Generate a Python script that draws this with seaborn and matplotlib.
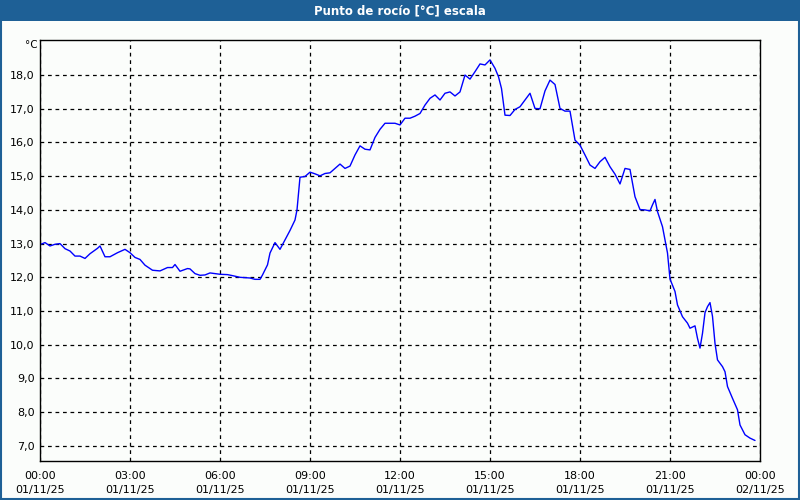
import pandas as pd
import numpy as np
import matplotlib
matplotlib.use("Agg")
import matplotlib.pyplot as plt
import matplotlib.dates as mdates
from matplotlib.patches import Rectangle
from matplotlib.ticker import FuncFormatter, FixedLocator
import seaborn as sns

# ========== DATA ==========
day = "2025-11-01"
times = [
    "00:00", "00:10", "00:20", "00:30", "00:40", "00:50", "01:00", "01:10", "01:20", "01:30",
    "01:40", "01:55", "02:00", "02:10", "02:20", "02:35", "02:50", "03:00", "03:10", "03:20",
    "03:30", "03:45", "04:00", "04:15", "04:25", "04:30", "04:40", "04:55", "05:00", "05:10",
    "05:20", "05:30", "05:40", "05:50", "06:00", "06:15", "06:25", "06:40", "07:00", "07:10",
    "07:20", "07:25", "07:35", "07:40", "07:50", "08:00", "08:10", "08:20", "08:30", "08:34",
    "08:40", "08:50", "09:00", "09:10", "09:20", "09:30", "09:40", "09:50", "10:00", "10:10",
    "10:20", "10:30", "10:40", "10:50", "11:00", "11:10", "11:20", "11:30", "11:40", "11:50",
    "12:00", "12:10", "12:20", "12:30", "12:40", "12:50", "13:00", "13:10", "13:20", "13:30",
    "13:40", "13:50", "14:00", "14:10", "14:20", "14:30", "14:40", "14:50", "15:00", "15:10",
    "15:17", "15:23", "15:30", "15:40", "15:50", "16:00", "16:10", "16:20", "16:30", "16:40",
    "16:50", "17:00", "17:10", "17:20", "17:30", "17:40", "17:50", "18:00", "18:10", "18:20",
    "18:30", "18:40", "18:50", "19:00", "19:10", "19:20", "19:30", "19:40", "19:50", "20:00",
    "20:10", "20:20", "20:25", "20:30", "20:35", "20:45", "20:50", "20:55", "21:00", "21:10",
    "21:15", "21:25", "21:35", "21:40", "21:50", "21:55", "22:00", "22:05", "22:10", "22:15",
    "22:20", "22:25", "22:30", "22:35", "22:45", "22:50", "22:55", "23:05", "23:15", "23:20",
    "23:30", "23:40", "23:50",
]
dew_point = [
    12.97, 13.03, 12.93, 12.98, 13.00, 12.85, 12.78, 12.63, 12.63, 12.56,
    12.70, 12.86, 12.93, 12.61, 12.61, 12.73, 12.83, 12.73, 12.59, 12.53,
    12.36, 12.21, 12.19, 12.29, 12.29, 12.38, 12.18, 12.26, 12.25, 12.11,
    12.06, 12.07, 12.13, 12.11, 12.09, 12.08, 12.05, 12.00, 11.98, 11.94,
    11.94, 12.07, 12.37, 12.72, 13.03, 12.83, 13.11, 13.39, 13.70, 14.00,
    14.97, 14.99, 15.12, 15.07, 15.01, 15.08, 15.10, 15.23, 15.36, 15.23,
    15.30, 15.63, 15.90, 15.80, 15.78, 16.15, 16.39, 16.57, 16.57, 16.57,
    16.52, 16.72, 16.72, 16.78, 16.86, 17.11, 17.31, 17.41, 17.26, 17.46,
    17.50, 17.38, 17.50, 18.00, 17.88, 18.10, 18.33, 18.30, 18.45, 18.20,
    17.95, 17.60, 16.81, 16.80, 16.98, 17.06, 17.26, 17.46, 17.01, 17.00,
    17.53, 17.85, 17.72, 17.01, 16.93, 16.93, 16.07, 15.92, 15.63, 15.33,
    15.23, 15.43, 15.56, 15.28, 15.06, 14.77, 15.23, 15.20, 14.39, 14.01,
    14.00, 13.97, 14.15, 14.31, 13.95, 13.50, 13.11, 12.72, 11.95, 11.58,
    11.18, 10.83, 10.64, 10.49, 10.56, 10.19, 9.90, 10.34, 10.95, 11.13,
    11.25, 10.84, 10.04, 9.55, 9.35, 9.20, 8.76, 8.41, 8.07, 7.62,
    7.33, 7.23, 7.16,
]
y_ticks = [7, 8, 9, 10, 11, 12, 13, 14, 15, 16, 17, 18]
title = "Punto de rocío [°C] escala"
unit_label = "°C"

df = pd.DataFrame({"time": pd.to_datetime([f"{day} {t}" for t in times]),
                   "dew": dew_point})

# ========== PLOT ==========
sns.set_style("white")
plt.rcParams["font.family"] = ["DejaVu Sans"]

bg = "#fbfdfb"
blue_frame = "#1e6096"

fig = plt.figure(figsize=(8, 5), dpi=100, facecolor=bg)
ax = fig.add_axes([0.05, 0.0786, 0.90, 0.8414])
ax.set_facecolor(bg)

sns.lineplot(data=df, x="time", y="dew", ax=ax, color="#0000ff", linewidth=1.0)

start = pd.Timestamp(day)
end = start + pd.Timedelta(hours=24)
ax.set_xlim(start, end)
ax.set_ylim(6.56, 19.04)

# x axis: major every 3h with dashed grid, minor every hour
ax.xaxis.set_major_locator(mdates.HourLocator(interval=3))
ax.xaxis.set_minor_locator(mdates.HourLocator(interval=1))
ax.xaxis.set_major_formatter(mdates.DateFormatter("%H:%M\n%d/%m/%y"))
ax.tick_params(axis="x", which="both", direction="out", length=2.2, width=1,
               color="black", labelcolor="black", labelsize=8, pad=5)
for lab in ax.get_xticklabels():
    lab.set_linespacing(1.6)

# y axis
ax.yaxis.set_major_locator(FixedLocator(y_ticks))
ax.yaxis.set_major_formatter(FuncFormatter(lambda v, p: f"{v:.1f}".replace(".", ",")))
ax.tick_params(axis="y", length=0, labelsize=8, labelcolor="black", pad=4)

ax.grid(True, which="major", color="black", linestyle=(0, (3, 3)), linewidth=0.9)
ax.set_xlabel("")
ax.set_ylabel("")

for sp in ax.spines.values():
    sp.set_color("black")
    sp.set_linewidth(1.0)
    sp.set_visible(True)

fig.text(0.047, 0.91, unit_label, fontsize=7.5, color="black", ha="right", va="center")

# title bar + outer frame
fig.patches.append(Rectangle((0, 0.958), 1, 0.042, transform=fig.transFigure,
                             facecolor=blue_frame, edgecolor="none", zorder=0))
fig.patches.append(Rectangle((0.0015, 0.002), 0.997, 0.996, transform=fig.transFigure,
                             facecolor="none", edgecolor=blue_frame, linewidth=1.5, zorder=5))
fig.text(0.5, 0.979, title, color="white", fontsize=8.5, fontweight="bold",
         ha="center", va="center")

fig.savefig("out.png", dpi=100, facecolor=bg)
